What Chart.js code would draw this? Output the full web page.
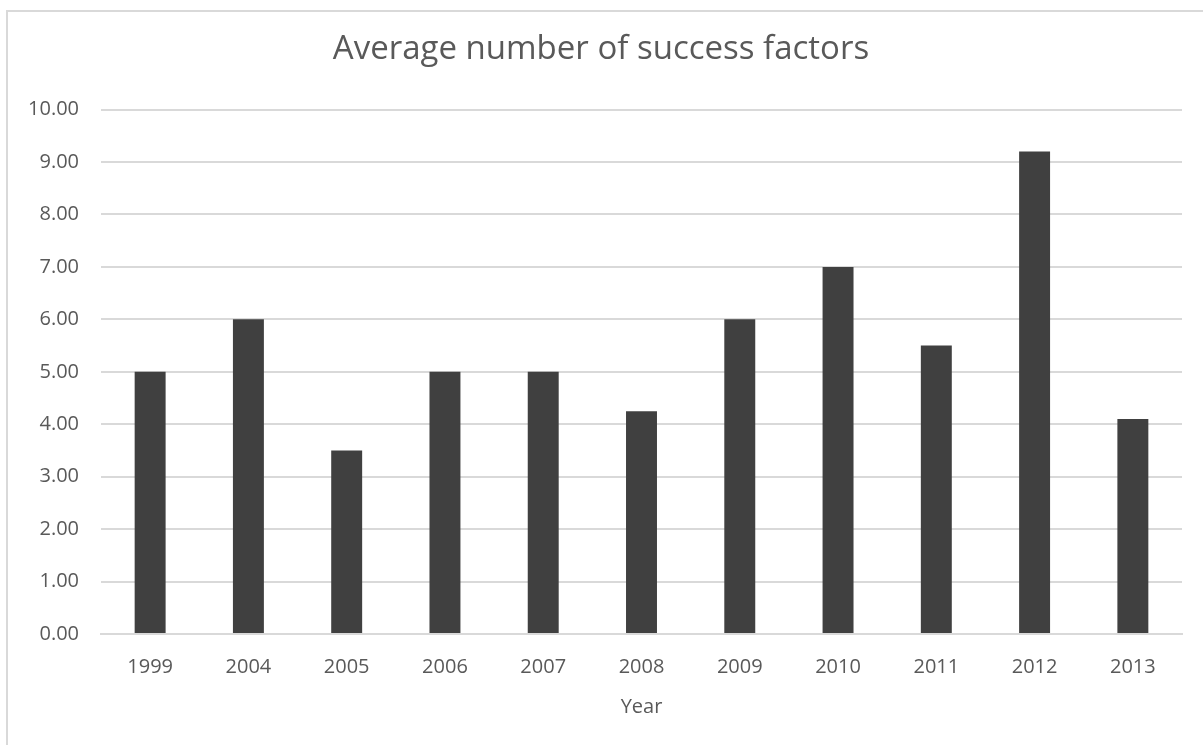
<!DOCTYPE html>
<html>
<head>
<meta charset="utf-8">
<title>Average number of success factors</title>
<script src="https://cdn.jsdelivr.net/npm/chart.js@4"></script>
<style>
    html, body { margin: 0; padding: 0; background: #ffffff; }
    #frame {
        position: absolute;
        left: 6px;
        top: 10px;
        width: 1300px;
        height: 800px;
        border-left: 2px solid #d9d9d9;
        border-top: 2px solid #d9d9d9;
    }
    #wrap { position: absolute; left: 0; top: 0; width: 1203px; height: 745px; }
</style>
</head>
<body>
<div id="frame"></div>
<div id="wrap"><canvas id="chart"></canvas></div>
<script>
"use strict";

// Chart data
const years = ["1999", "2004", "2005", "2006", "2007", "2008", "2009", "2010", "2011", "2012", "2013"];
const avgFactors = [5.0, 6.0, 3.5, 5.0, 5.0, 4.25, 6.0, 7.0, 5.5, 9.2, 4.1];
const yTicks = [0, 1, 2, 3, 4, 5, 6, 7, 8, 9, 10];

const textColor = '#595959';
const fontFamily = '"Open Sans", "Noto Sans", sans-serif';

// Bar chart
const ctx = document.getElementById('chart').getContext('2d');
new Chart(ctx, {
    type: 'bar',
    data: {
        labels: years,
        datasets: [{
            label: 'Average number of success factors',
            data: avgFactors,
            backgroundColor: '#404040',
            borderWidth: 0,
            barPercentage: 0.315,
            categoryPercentage: 1
        }]
    },
    options: {
        responsive: true,
        maintainAspectRatio: false,
        animation: false,
        layout: {
            // left padding keeps the title centred on the page
            padding: { left: 20, right: 21, top: 0, bottom: 0 }
        },
        plugins: {
            legend: { display: false },
            tooltip: { enabled: false },
            title: {
                display: true,
                text: 'Average number of success factors',
                color: textColor,
                font: { family: fontFamily, size: 33, weight: 'normal' },
                padding: { top: 30, bottom: 40 }
            }
        },
        scales: {
            x: {
                // fixed height so the axis line sits at y=634
                afterFit: (scale) => { scale.height = 111; },
                grid: { display: false, drawTicks: false },
                border: { display: true, color: '#d9d9d9', width: 2 },
                ticks: {
                    color: textColor,
                    font: { family: fontFamily, size: 20 },
                    padding: 21,
                    maxRotation: 0
                },
                title: {
                    display: true,
                    text: 'Year',
                    color: textColor,
                    font: { family: fontFamily, size: 20 },
                    padding: { top: 0, bottom: 26 }
                }
            },
            y: {
                min: 0,
                max: 10,
                afterFit: (scale) => { scale.width = 81; },
                afterBuildTicks: (scale) => {
                    scale.ticks = yTicks.map(v => ({ value: v }));
                },
                grid: { color: '#d9d9d9', lineWidth: 2, drawTicks: false },
                border: { display: false },
                ticks: {
                    color: textColor,
                    font: { family: fontFamily, size: 20 },
                    padding: 22,
                    callback: (v) => Number(v).toFixed(2)
                }
            }
        }
    }
});
</script>
</body>
</html>
